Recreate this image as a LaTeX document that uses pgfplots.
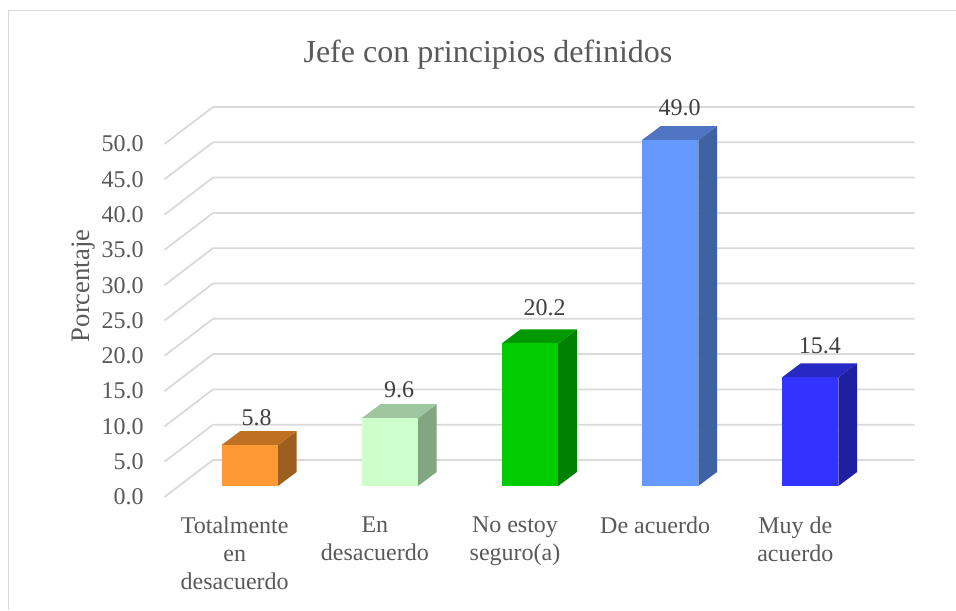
\documentclass[border=0pt]{standalone}
\usepackage{fontspec}
\setmainfont{Liberation Serif}
\usepackage{pgfplots}
\pgfplotsset{compat=1.18}
\definecolor{gridc}{HTML}{D9D9D9}
\definecolor{txt}{HTML}{595959}
\definecolor{lbl}{HTML}{404040}
\definecolor{oF}{HTML}{FF9933}\definecolor{oT}{HTML}{C07022}\definecolor{oS}{HTML}{9C5F1F}
\definecolor{gF}{HTML}{CCFFCC}\definecolor{gT}{HTML}{9FC79F}\definecolor{gS}{HTML}{82A682}
\definecolor{dF}{HTML}{00CC00}\definecolor{dT}{HTML}{009A00}\definecolor{dS}{HTML}{008000}
\definecolor{bF}{HTML}{6699FF}\definecolor{bT}{HTML}{4F74C4}\definecolor{bS}{HTML}{3F62A3}
\definecolor{nF}{HTML}{3333FF}\definecolor{nT}{HTML}{2828C4}\definecolor{nS}{HTML}{1F1FA0}
\pgfplotsset{
  gl/.style={draw=gridc,line width=1.3pt,line join=round,forget plot},
  face/.style={fill=#1,draw=none,forget plot},
  front/.style={ybar,bar width=42.2pt,fill=#1,draw=none,forget plot,
    nodes near coords={\pgfmathprintnumber[assume math mode=true,fixed,fixed zerofill,precision=1]{\pgfplotspointmeta}}},
  lab/.style 2 args={every node near coord/.append style={anchor=center,xshift=#1,yshift=#2,
    font=\fontsize{18pt}{20pt}\selectfont,text=lbl,inner sep=0pt}},
}
\begin{document}
\begin{tikzpicture}
\useasboundingbox (0,0) rectangle (717pt,457.5pt);
\fill[white] (0,0) rectangle (717pt,457.5pt);
\draw[gridc,line width=1.1pt] (6.2pt,0) -- (6.2pt,449.6pt) -- (717pt,449.6pt);
\begin{axis}[
  at={(123.375pt,84.75pt)},anchor=south west,
  width=562.65pt,height=292.5pt,scale only axis,
  xmin=-0.6079,xmax=4.745,ymin=-1.558,ymax=53.683,
  clip=false,
  axis line style={draw=none},
  tick style={draw=none},major tick length=0pt,
  ytick={0,5,10,15,20,25,30,35,40,45,50},
  xtick={0,1,2,3,4},
  xticklabels={{Totalmente\\en\\desacuerdo},{En\\desacuerdo},{No estoy\\seguro(a)},{De acuerdo},{Muy de\\acuerdo}},
  /pgf/number format/assume math mode=true,
  yticklabel style={/pgf/number format/fixed,/pgf/number format/fixed zerofill,/pgf/number format/precision=1,
    anchor=east,inner sep=0pt,xshift=-15.4pt,yshift=-8.25pt,font=\fontsize{18pt}{20pt}\selectfont,text=txt},
  xticklabel style={anchor=north,inner sep=0pt,align=center,xshift=-11.25pt,yshift=-14.8pt,
    font=\fontsize{18pt}{20.8pt}\selectfont,text=txt},
  title={Jefe con principios definidos},
  title style={at={(axis description cs:0.4312,1.141)},anchor=center,inner sep=0pt,yshift=-8pt,
    font=\fontsize{24pt}{26pt}\selectfont,text=txt},
  ylabel={Porcentaje},
  every axis y label/.style={at={(axis description cs:-0.108,0.5415)},rotate=90,anchor=center,inner sep=0pt,
    font=\fontsize{20pt}{22pt}\selectfont,text=txt},
]
% grid: wall lines
\addplot[gl] coordinates {(-0.6079,-1.558) (-0.2619,3.683) (4.745,3.683)};
\addplot[gl] coordinates {(-0.6079,3.442) (-0.2619,8.683) (4.745,8.683)};
\addplot[gl] coordinates {(-0.6079,8.442) (-0.2619,13.683) (4.745,13.683)};
\addplot[gl] coordinates {(-0.6079,13.442) (-0.2619,18.683) (4.745,18.683)};
\addplot[gl] coordinates {(-0.6079,18.442) (-0.2619,23.683) (4.745,23.683)};
\addplot[gl] coordinates {(-0.6079,23.442) (-0.2619,28.683) (4.745,28.683)};
\addplot[gl] coordinates {(-0.6079,28.442) (-0.2619,33.683) (4.745,33.683)};
\addplot[gl] coordinates {(-0.6079,33.442) (-0.2619,38.683) (4.745,38.683)};
\addplot[gl] coordinates {(-0.6079,38.442) (-0.2619,43.683) (4.745,43.683)};
\addplot[gl] coordinates {(-0.6079,43.442) (-0.2619,48.683) (4.745,48.683)};
\addplot[gl] coordinates {(-0.6079,48.442) (-0.2619,53.683) (4.745,53.683)};
% bar 1
\addplot[face=oS] coordinates {(0.2009,0) (0.3343,1.983) (0.3343,7.783) (0.2009,5.8)} -- cycle;
\addplot[face=oT] coordinates {(-0.2009,5.8) (-0.0675,7.783) (0.3343,7.783) (0.2009,5.8)} -- cycle;
\addplot[front=oF,lab={5.2pt}{20.8pt}] coordinates {(0,5.8)};
% bar 2
\addplot[face=gS] coordinates {(1.2009,0) (1.3343,1.983) (1.3343,11.583) (1.2009,9.6)} -- cycle;
\addplot[face=gT] coordinates {(0.7991,9.6) (0.9325,11.583) (1.3343,11.583) (1.2009,9.6)} -- cycle;
\addplot[front=gF,lab={7pt}{21pt}] coordinates {(1,9.6)};
% bar 3
\addplot[face=dS] coordinates {(2.2009,0) (2.3343,1.983) (2.3343,22.183) (2.2009,20.2)} -- cycle;
\addplot[face=dT] coordinates {(1.7991,20.2) (1.9325,22.183) (2.3343,22.183) (2.2009,20.2)} -- cycle;
\addplot[front=dF,lab={11pt}{27pt}] coordinates {(2,20.2)};
% bar 4
\addplot[face=bS] coordinates {(3.2009,0) (3.3343,1.983) (3.3343,50.983) (3.2009,49)} -- cycle;
\addplot[face=bT] coordinates {(2.7991,49) (2.9325,50.983) (3.3343,50.983) (3.2009,49)} -- cycle;
\addplot[front=bF,lab={7.1pt}{24pt}] coordinates {(3,49)};
% bar 5
\addplot[face=nS] coordinates {(4.2009,0) (4.3343,1.983) (4.3343,17.383) (4.2009,15.4)} -- cycle;
\addplot[face=nT] coordinates {(3.7991,15.4) (3.9325,17.383) (4.3343,17.383) (4.2009,15.4)} -- cycle;
\addplot[front=nF,lab={7.1pt}{24pt}] coordinates {(4,15.4)};
\end{axis}
\end{tikzpicture}
\end{document}
